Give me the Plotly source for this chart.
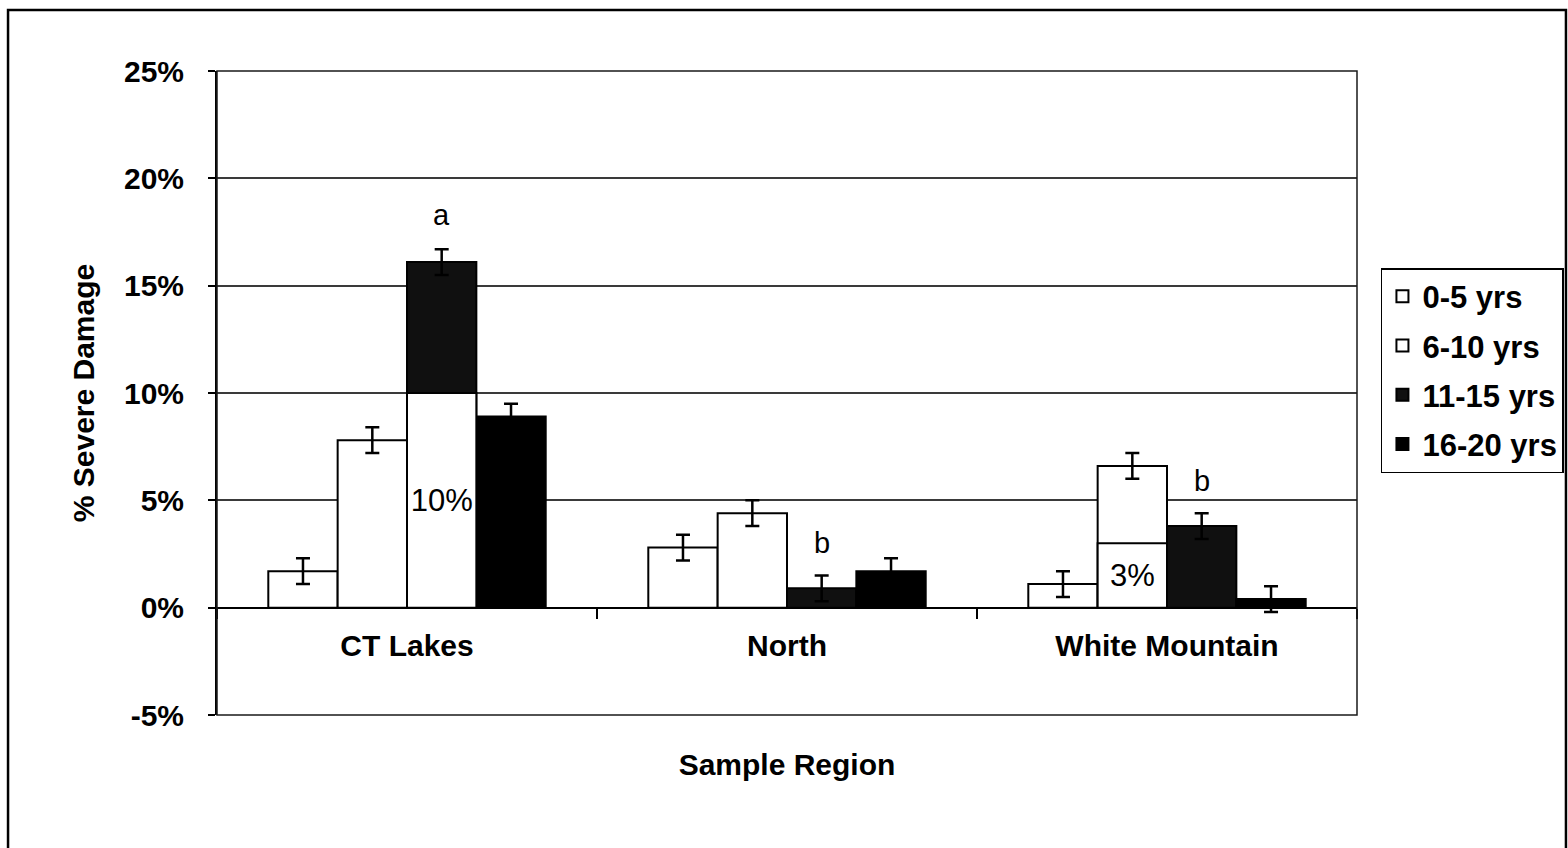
import plotly.graph_objects as go

# Sample regions and stand-age classes
regions = ["CT Lakes", "North", "White Mountain"]
age_classes = ["0-5 yrs", "6-10 yrs", "11-15 yrs", "16-20 yrs"]

# % severe damage per age class (one value per region)
pct_0_5 = [1.7, 2.8, 1.1]
pct_6_10 = [7.8, 4.4, 6.6]
pct_11_15 = [16.1, 0.9, 3.8]
pct_16_20 = [8.9, 1.7, 0.4]

# standard errors
se_0_5 = [0.6, 0.6, 0.6]
se_6_10 = [0.6, 0.6, 0.6]
se_11_15 = [0.6, 0.6, 0.6]
se_16_20 = [0.6, 0.6, 0.6]

# y-axis ticks
y_tick_vals = [-5, 0, 5, 10, 15, 20, 25]
y_tick_text = ["-5%", "0%", "5%", "10%", "15%", "20%", "25%"]

# value call-out boxes placed on individual bars
callout_ct_region = ["CT Lakes"]
callout_ct_value = [10]
callout_ct_text = ["10%"]
callout_wm_region = ["White Mountain"]
callout_wm_value = [3]
callout_wm_text = ["3%"]

# significance letters: (region index, age class index, y value, letter)
letter_regions = [0, 1, 2]
letter_classes = [2, 2, 2]
letter_y = [18.3, 3.0, 5.9]
letter_text = ["a", "b", "b"]

FONT = "Liberation Sans, Arial, sans-serif"
BARGAP = 0.27
BAR_W = (1 - BARGAP) / len(age_classes)

values = [pct_0_5, pct_6_10, pct_11_15, pct_16_20]
errors = [se_0_5, se_6_10, se_11_15, se_16_20]
fills = ["#ffffff", "#ffffff", "#101010", "#000000"]

fig = go.Figure()

for i, (name, vals, errs, fill) in enumerate(zip(age_classes, values, errors, fills)):
    fig.add_trace(go.Bar(
        name=name,
        x=regions,
        y=vals,
        offsetgroup=f"g{i}",
        legendgroup=f"g{i}",
        marker=dict(color=fill, line=dict(color="#000000", width=2)),
        error_y=dict(type="data", array=errs, visible=True,
                     color="#000000", thickness=2.5, width=7),
    ))

# white call-out boxes that overlay bars
for reg, val, txt, grp in [(callout_ct_region, callout_ct_value, callout_ct_text, "g2"),
                           (callout_wm_region, callout_wm_value, callout_wm_text, "g1")]:
    fig.add_trace(go.Bar(
        x=reg, y=val, text=txt,
        offsetgroup=grp, showlegend=False, hoverinfo="skip",
        marker=dict(color="#ffffff", line=dict(color="#000000", width=2)),
        textposition="inside", insidetextanchor="middle",
        constraintext="none", cliponaxis=False,
        textfont=dict(family=FONT, size=31, color="#000000"),
    ))

annotations = []
for ri, ci, yv, t in zip(letter_regions, letter_classes, letter_y, letter_text):
    annotations.append(dict(
        x=ri + (ci - 1.5) * BAR_W, y=yv, xref="x", yref="y", text=t,
        showarrow=False, font=dict(family=FONT, size=29, color="#000000"),
    ))

fig.update_layout(
    width=1568, height=848,
    margin=dict(l=217, r=211, t=71, b=133, autoexpand=False),
    paper_bgcolor="#ffffff", plot_bgcolor="#ffffff",
    barmode="group", bargap=BARGAP, bargroupgap=0,
    font=dict(family=FONT, color="#000000"),
    showlegend=True,
    legend=dict(
        x=1.021, y=0.694, xanchor="left", yanchor="top",
        bordercolor="#000000", borderwidth=1.5, bgcolor="#ffffff",
        font=dict(family=FONT, size=31, color="#000000", weight="bold"),
        tracegroupgap=6, itemwidth=30,
    ),
    xaxis=dict(
        type="category", anchor="free", position=1 / 6,
        showline=True, linecolor="#000000", linewidth=2,
        ticks="outside", ticklen=10, tickwidth=1.5, tickcolor="#000000",
        tickson="boundaries", showgrid=False,
        tickfont=dict(family=FONT, size=30, color="#000000", weight="bold"),
        ticklabelstandoff=11,
        title=dict(text="Sample Region", standoff=92,
                   font=dict(family=FONT, size=30, color="#000000", weight="bold")),
    ),
    yaxis=dict(
        range=[-5, 25], tickvals=y_tick_vals, ticktext=y_tick_text, zeroline=False,
        showline=True, linecolor="#000000", linewidth=2,
        ticks="outside", ticklen=7, tickwidth=1.5, tickcolor="#000000",
        showgrid=True, gridcolor="#3a3a3a", gridwidth=1.5,
        tickfont=dict(family=FONT, size=30, color="#000000", weight="bold"),
        ticklabelstandoff=18,
        title=dict(text="% Severe Damage", standoff=20,
                   font=dict(family=FONT, size=30, color="#000000", weight="bold")),
    ),
    annotations=annotations,
    shapes=[
        # plot-area frame
        dict(type="rect", xref="paper", yref="paper", x0=0, x1=1, y0=0, y1=1,
             line=dict(color="#1a1a1a", width=1.5)),
        # outer chart frame
        dict(type="rect", xref="paper", yref="paper",
             x0=-0.1833, x1=1.1833, y0=-0.3, y1=1.0947,
             line=dict(color="#000000", width=2.5)),
    ],
)

fig.write_html("out.html")
